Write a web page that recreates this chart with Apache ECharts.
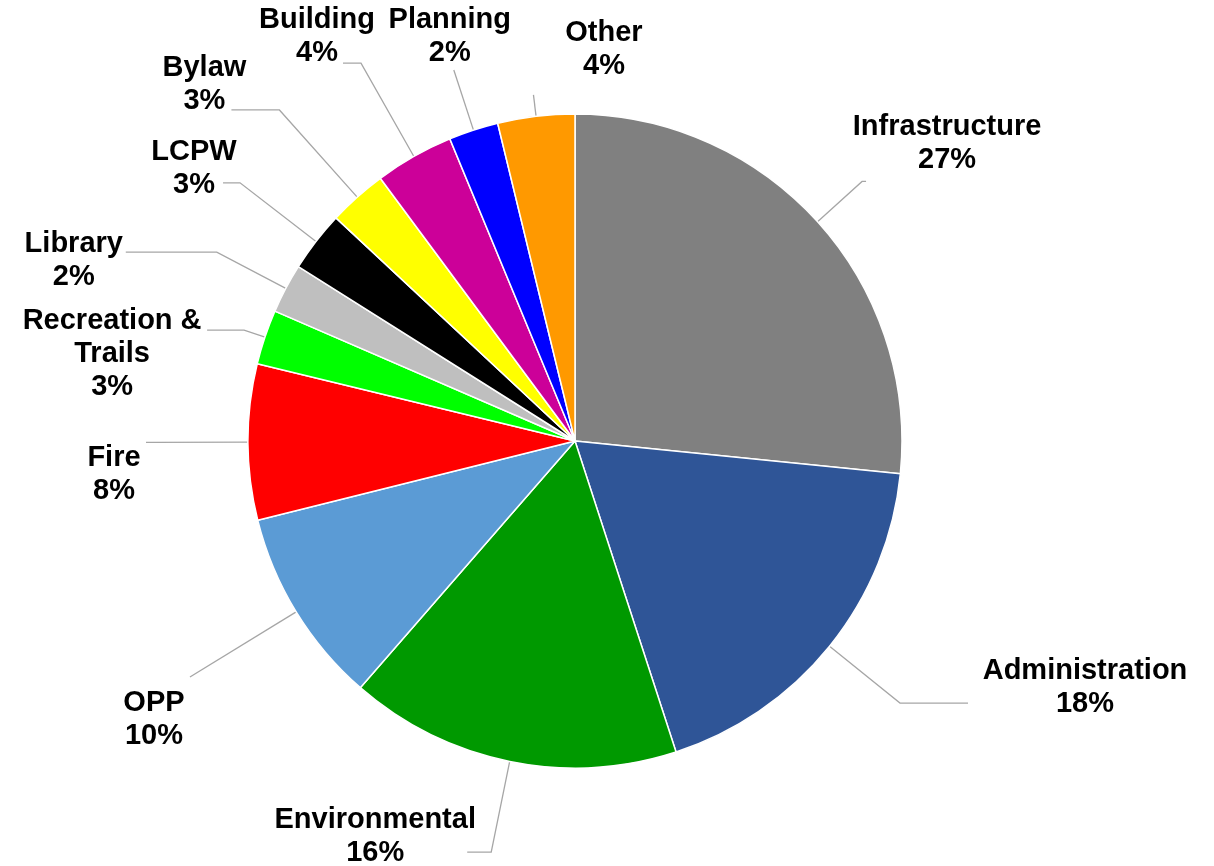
<!DOCTYPE html>
<html>
<head>
<meta charset="utf-8">
<style>
  html, body { margin: 0; padding: 0; background: #ffffff; }
  #chart { width: 1214px; height: 866px; }
</style>
<script src="https://cdn.jsdelivr.net/npm/echarts@6/dist/echarts.min.js"></script>
</head>
<body>
<div id="chart"></div>
<script>
// ---- data ----
const categories = ['Infrastructure', 'Administration', 'Environmental', 'OPP', 'Fire',
  'Recreation & Trails', 'Library', 'LCPW', 'Bylaw', 'Building', 'Planning', 'Other'];
const shares = [26.6, 18.4, 16.4, 9.7, 7.7, 2.7, 2.45, 3.0, 2.9, 3.9, 2.45, 3.8];
const colors = ['#808080', '#2F5597', '#009900', '#5B9BD5', '#FF0000', '#00FF00',
  '#BFBFBF', '#000000', '#FFFF00', '#CC0099', '#0000FF', '#FF9900'];

// ---- label placement (style only: leader lengths, text gap, vertical text shift) ----
const leadLen  = [60, 90.5, 92.5, 124.6, 95, 22, 78, 95.9, 116.8, 107.3, 63.3, 21.6];
const leadLen2 = [4, 68, 24, 0, 7, 37, 91, 17, 48, 18, 0, 0];
const textGap  = [81, 117, 92, 36, 32, 95, 52, 29, 27, 26, 4, -70.5];
const textShift = [-38.4, -16, -16, 43, 32, 24, 8, -14.5, -25, -26.5, -33.5, -45];

const seriesData = categories.map((name, i) => ({
  name: name,
  value: shares[i],
  itemStyle: { color: colors[i] },
  label: {
    distanceToLabelLine: textGap[i],
    padding: [Math.max(0, 2 * textShift[i]), 0, Math.max(0, -2 * textShift[i]), 0]
  },
  labelLine: { length: leadLen[i], length2: leadLen2[i] }
}));

const chart = echarts.init(document.getElementById('chart'), null, { renderer: 'canvas' });
chart.setOption({
  backgroundColor: '#ffffff',
  animation: false,
  series: [{
    type: 'pie',
    center: [575, 441],
    radius: 327,
    startAngle: 90,
    clockwise: true,
    avoidLabelOverlap: false,
    data: seriesData,
    itemStyle: { borderColor: '#ffffff', borderWidth: 1.5 },
    emphasis: { disabled: true },
    label: {
      show: true,
      position: 'outside',
      alignTo: 'none',
      formatter: function (p) {
        const lines = p.name.replace(' & ', ' &\n').split('\n');
        lines.push(Math.round(p.percent) + '%');
        return lines.map(t => '{n|' + t + '}').join('\n');
      },
      rich: {
        n: {
          align: 'center',
          fontFamily: '"Liberation Sans", Arial, sans-serif',
          fontWeight: 'bold',
          fontSize: 29,
          lineHeight: 33,
          color: '#000000'
        }
      }
    },
    labelLine: {
      show: true,
      smooth: false,
      minTurnAngle: 0,
      maxSurfaceAngle: 180,
      lineStyle: { color: '#A6A6A6', width: 1.3 }
    },
    labelLayout: function () {
      return { align: 'center', verticalAlign: 'middle' };
    }
  }]
});
</script>
</body>
</html>
